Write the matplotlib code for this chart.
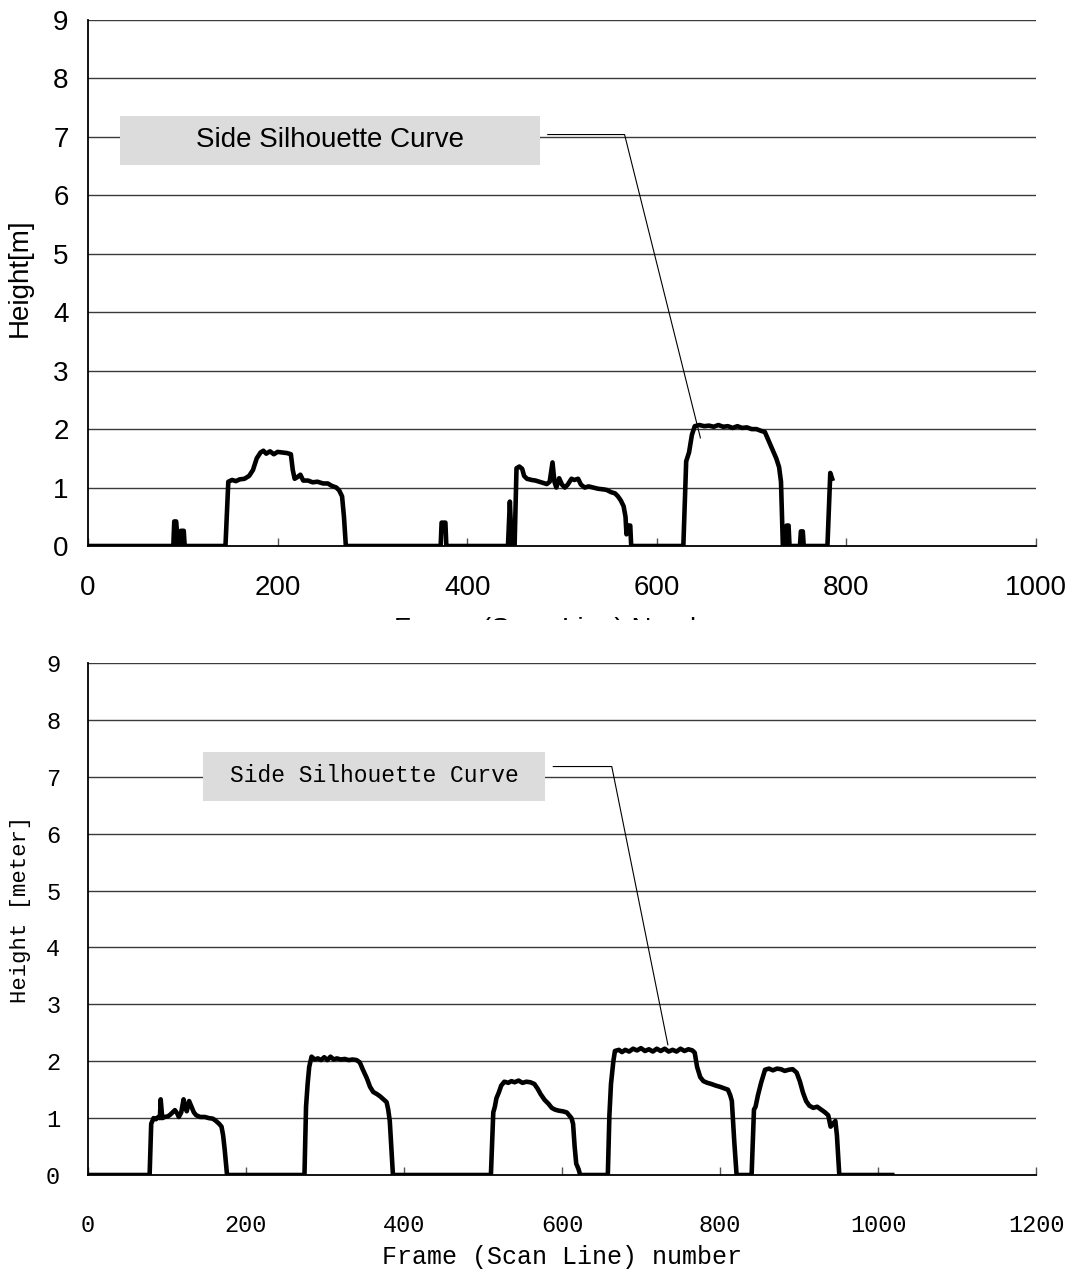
import numpy as np
import matplotlib.pyplot as plt
from matplotlib.patches import Rectangle

# upper panel: side silhouette, 1000 frames
top_frame = [0, 90, 91, 93, 95, 97, 98, 101, 102,
             145, 148, 152, 156, 160, 165, 170, 174, 178, 182, 185, 188, 192, 196, 200,
             205, 210, 214, 216, 218, 221, 224, 227, 232, 237, 242, 248, 253, 257, 262,
             265, 268, 270, 272,
             372, 373, 377, 378,
             443, 445, 447, 450, 452, 455, 458, 460, 463, 468, 472, 476, 480, 484, 487,
             490, 492, 494, 497, 500, 503, 506, 510, 513, 517, 520, 524, 528, 533, 538,
             543, 547, 552, 556, 559, 562, 565, 567, 568, 570, 572, 573,
             628, 631, 634, 637, 640, 645, 650, 655, 660, 665, 670, 675, 680, 685, 690,
             695, 700, 705, 710, 714, 718, 722, 726, 729, 731, 733,
             736, 737, 739, 740, 751, 752, 754, 755, 780, 783, 785]
top_height = [0, 0, 0.42, 0.42, 0, 0, 0.26, 0.26, 0,
              0, 1.10, 1.13, 1.11, 1.14, 1.15, 1.20, 1.30, 1.50, 1.60, 1.63, 1.58, 1.62, 1.57, 1.61,
              1.60, 1.59, 1.57, 1.30, 1.15, 1.18, 1.22, 1.12, 1.12, 1.09, 1.10, 1.07, 1.07, 1.03, 1.00,
              0.95, 0.85, 0.50, 0,
              0, 0.40, 0.40, 0,
              0, 0.76, 0, 0, 1.33, 1.36, 1.32, 1.20, 1.15, 1.13, 1.12, 1.10, 1.08, 1.06, 1.10,
              1.43, 1.10, 1.00, 1.16, 1.05, 1.00, 1.05, 1.15, 1.13, 1.15, 1.05, 1.00, 1.02, 1.00, 0.98,
              0.97, 0.96, 0.92, 0.90, 0.85, 0.78, 0.68, 0.50, 0.20, 0.35, 0.35, 0,
              0, 1.45, 1.60, 1.90, 2.05, 2.07, 2.05, 2.06, 2.04, 2.07, 2.04, 2.05, 2.02, 2.05, 2.02,
              2.03, 2.00, 2.00, 1.97, 1.95, 1.80, 1.65, 1.50, 1.35, 1.10, 0,
              0, 0.35, 0.35, 0, 0, 0.25, 0.25, 0, 0, 1.25, 1.15]

# lower panel: side silhouette, 1200 frames
bot_frame = [0, 78, 80, 83, 86, 89, 91, 92, 94, 97, 101, 104, 107, 110, 113, 115, 118, 121,
             123, 125, 128, 131, 134, 137, 142, 148, 153, 158, 162, 166, 169, 171, 173, 176,
             274, 276, 278, 280, 283, 287, 291, 295, 299, 303, 307, 311, 315, 320, 325, 330,
             335, 340, 344, 348, 353, 357, 361, 366, 370, 374, 378, 380, 382, 386,
             510, 513, 515, 517, 520, 523, 527, 532, 536, 540, 545, 550, 555, 560, 565, 569,
             573, 578, 583, 587, 591, 596, 601, 606, 609, 612, 614, 616, 618, 621, 623,
             658, 660, 662, 665, 667, 672, 676, 680, 685, 690, 695, 700, 705, 710, 715, 720,
             725, 730, 735, 740, 745, 750, 755, 760, 765, 768, 771, 775, 779, 784, 789, 795,
             800, 806, 810, 813, 815, 818, 821,
             840, 843, 845, 848, 852, 857, 862, 867, 872, 877, 882, 887, 892, 897, 901, 905,
             909, 913, 918, 923, 928, 933, 937, 940, 943, 946, 948, 951, 1018]
bot_height = [0, 0, 0.90, 1.00, 0.98, 1.02, 1.00, 1.33, 1.00, 1.02, 1.03, 1.06, 1.10, 1.14, 1.08, 1.02, 1.10, 1.33,
              1.18, 1.12, 1.30, 1.20, 1.10, 1.05, 1.02, 1.02, 1.00, 0.99, 0.95, 0.90, 0.85, 0.70, 0.45, 0,
              0, 1.20, 1.60, 1.90, 2.08, 2.03, 2.05, 2.02, 2.07, 2.02, 2.08, 2.03, 2.05, 2.03, 2.04, 2.02,
              2.03, 2.02, 1.98, 1.85, 1.70, 1.55, 1.46, 1.42, 1.38, 1.33, 1.28, 1.15, 0.95, 0,
              0, 1.10, 1.20, 1.35, 1.45, 1.57, 1.64, 1.62, 1.65, 1.63, 1.66, 1.62, 1.64, 1.63, 1.60, 1.52,
              1.42, 1.32, 1.25, 1.18, 1.15, 1.13, 1.12, 1.10, 1.05, 1.00, 0.90, 0.50, 0.20, 0.10, 0,
              0, 1.05, 1.60, 2.00, 2.18, 2.20, 2.16, 2.20, 2.17, 2.22, 2.19, 2.23, 2.18, 2.21, 2.17, 2.22,
              2.18, 2.22, 2.17, 2.20, 2.17, 2.22, 2.18, 2.21, 2.19, 2.15, 1.90, 1.72, 1.65, 1.62, 1.60, 1.57,
              1.55, 1.52, 1.50, 1.40, 1.30, 0.60, 0,
              0, 1.15, 1.20, 1.40, 1.62, 1.85, 1.87, 1.84, 1.87, 1.86, 1.83, 1.85, 1.86, 1.80, 1.65, 1.45,
              1.30, 1.22, 1.18, 1.20, 1.15, 1.10, 1.05, 0.85, 0.90, 0.95, 0.70, 0, 0]

sans = "Liberation Sans"
mono = "Liberation Mono"
grid_c = "#3a3a3a"

fig = plt.figure(figsize=(10.75, 12.75), dpi=100)
ax1 = fig.add_axes([88/1075, 1 - 546/1275, 948/1075, 526/1275])
ax2 = fig.add_axes([88/1075, 1 - 1175/1275, 948/1075, 512/1275])


def style_axes(ax, xmax, font, tsize, xpad, ypad):
    ax.set_xlim(0, xmax)
    ax.set_ylim(0, 9)
    ax.set_yticks(np.arange(0, 10, 1))
    ax.set_xticks(np.arange(0, xmax + 1, 200))
    for y in range(1, 10):
        ax.axhline(y, color=grid_c, lw=1.0, zorder=1)
    ax.spines["top"].set_visible(False)
    ax.spines["right"].set_visible(False)
    ax.spines["left"].set_linewidth(1.3)
    ax.spines["bottom"].set_linewidth(1.3)
    ax.tick_params(axis="x", direction="in", length=6, width=1.0, color="#555555", pad=xpad)
    ax.tick_params(axis="y", length=0, pad=ypad)
    for lab in ax.get_xticklabels() + ax.get_yticklabels():
        lab.set_fontfamily(font)
        lab.set_fontsize(tsize)


# upper panel
style_axes(ax1, 1000, sans, 20, 21, 14)
ax1.plot(top_frame, top_height, color="black", lw=3.3, zorder=3)
ax1.set_xlabel("Frame (Scan Line) Number", fontfamily=sans, fontsize=20)
ax1.xaxis.set_label_coords(0.5, -0.135)
ax1.set_ylabel("Height[m]", fontfamily=sans, fontsize=20)
ax1.yaxis.set_label_coords(-0.058, 0.511)

ax1.add_patch(Rectangle((34, 6.52), 443, 0.83, facecolor="#dcdcdc", edgecolor="none", zorder=4))
ax1.text(255, 6.95, "Side Silhouette Curve", fontfamily=sans, fontsize=20,
         ha="center", va="center", zorder=5)
ax1.plot([485, 566, 646], [7.04, 7.04, 1.85], color="black", lw=0.8, zorder=5)

# lower panel
style_axes(ax2, 1200, mono, 17, 28, 20)
ax2.plot(bot_frame, bot_height, color="black", lw=3.3, zorder=3)
ax2.set_xlabel("Frame (Scan Line) number", fontfamily=mono, fontsize=18)
ax2.xaxis.set_label_coords(0.5, -0.136)
ax2.set_ylabel("Height [meter]", fontfamily=mono, fontsize=16)
ax2.yaxis.set_label_coords(-0.060, 0.518)

ax2.add_patch(Rectangle((146, 6.58), 432, 0.86, facecolor="#dcdcdc", edgecolor="none", zorder=4))
ax2.text(362, 7.02, "Side Silhouette Curve", fontfamily=mono, fontsize=16.5,
         ha="center", va="center", zorder=5)
ax2.plot([589, 663, 734], [7.18, 7.18, 2.29], color="black", lw=0.8, zorder=5)

# lower panel sits over the upper panel's axis title
fig.add_artist(Rectangle((0, 1 - 650/1275), 1, 30/1275, transform=fig.transFigure,
                         facecolor="white", edgecolor="none", zorder=5))

fig.savefig("out.png", dpi=100)
